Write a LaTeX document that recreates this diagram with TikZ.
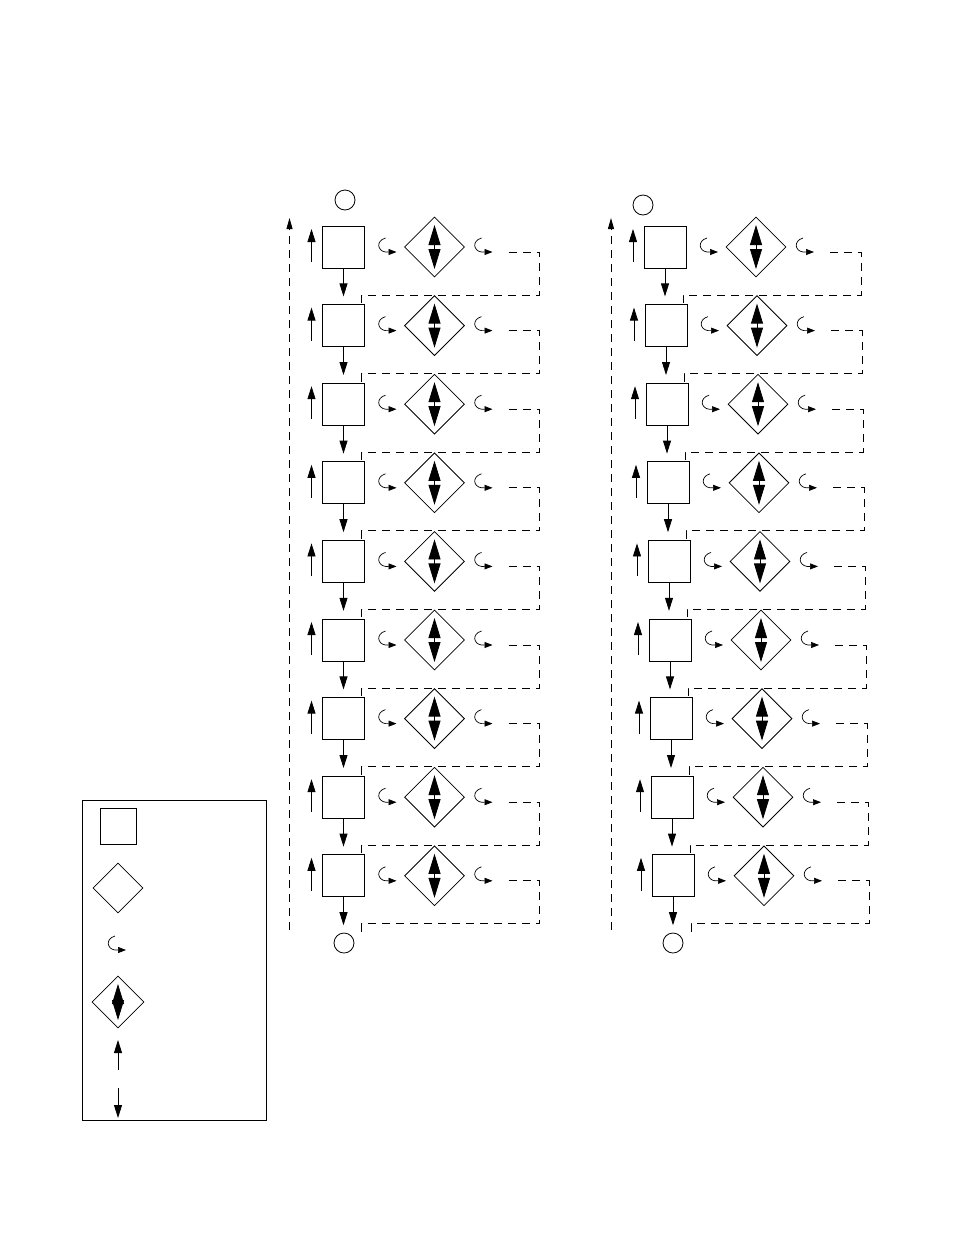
\documentclass[tikz,border=0pt]{standalone}
\usetikzlibrary{arrows.meta,shapes.geometric}
\begin{document}
\begin{tikzpicture}[x=1pt,y=-1pt,
  blk/.style={draw,minimum size=42pt,inner sep=0,line width=0.8pt},
  dia/.style={draw,diamond,minimum size=60pt,inner sep=0,line width=0.8pt},
  tri/.style={-{Triangle[length=13pt,width=8pt]},line width=0.8pt},
  big/.style={-{Triangle[length=20pt,width=12pt]},line width=0.8pt},
  smal/.style={-{Triangle[length=8pt,width=6pt]},line width=0.7pt},
  dsh/.style={dashed,dash pattern=on 8pt off 6pt,line width=0.8pt},
  crc/.style={draw,circle,minimum size=20pt,inner sep=0,line width=0.8pt}]
\useasboundingbox (0,0) rectangle (954,1235);
\newcommand{\curlat}[2]{\draw[smal] (#1+1,#2-9) .. controls (#1-9,#2-6) and (#1-7,#2+4) .. (#1+1,#2+5) -- (#1+12,#2+5);}
\newcommand{\column}[6]{%
  \foreach \i in {0,...,8}{
    \pgfmathsetmacro{\yy}{247+78.6*\i}
    \pgfmathsetmacro{\xx}{#2+#3*\i/8}
    \node[blk] (#1b\i) at (\xx,\yy) {};
    \node[dia] (#1d\i) at (\xx+91,\yy) {};
    \draw[big] ([yshift=-2pt]#1d\i.center) -- ++(0,-24);
    \draw[big] ([yshift=2pt]#1d\i.center) -- ++(0,24);
    \draw[tri] (\xx-32,\yy+15) -- ++(0,-33);
    \curlat{\xx+41}{\yy}
    \curlat{\xx+137}{\yy}
    \draw[dsh] (\xx+165,\yy+5) -- (\xx+196,\yy+5) -- (\xx+196,\yy+48) -- (\xx+18,\yy+48) -- (\xx+18,\yy+58);
    \draw[tri] (#1b\i.south) -- ++(0,28);
  }
  \node[crc] (#1top) at (#4,#5) {};
  \node[crc] (#1bot) at (#6,943) {};
  \draw[dsh,-{Triangle[length=11pt,width=6pt]}] (#2-54,930) -- (#2-54,218);
}
\column{L}{343.5}{0}{345}{200}{344}
\column{R}{665}{8}{643}{205}{673}
% legend
\draw[line width=0.8pt] (82,800) rectangle (266,1120);
\node[draw,minimum size=36pt,inner sep=0,line width=0.8pt] (ls) at (118,826) {};
\node[dia,minimum size=50pt] (ld) at (118,888) {};
\curlat{114}{945}
\node[dia,minimum size=52pt] (ld2) at (118,1002) {};
\draw[big] ([yshift=-2pt]ld2.center) -- ++(0,-20);
\draw[big] ([yshift=2pt]ld2.center) -- ++(0,20);
\draw[tri] (118,1070) -- (118,1040);
\draw[tri] (118,1088) -- (118,1118);
\end{tikzpicture}
\end{document}
